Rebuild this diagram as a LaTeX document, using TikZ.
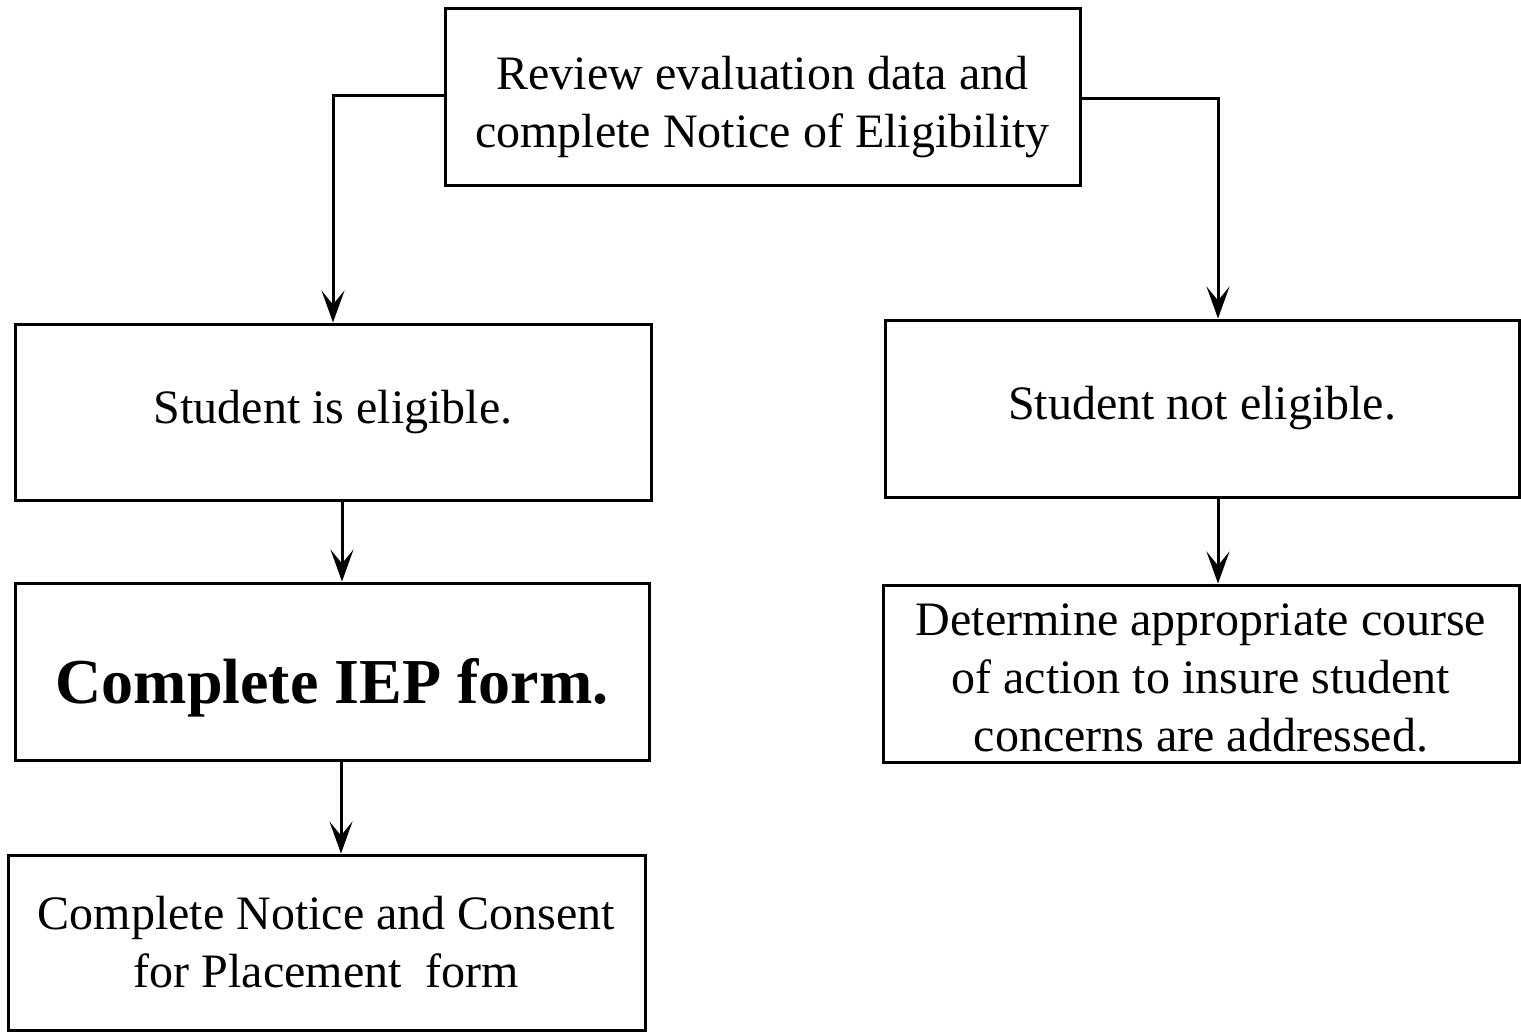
\documentclass[tikz,border=0pt]{standalone}
\usepackage{fontspec}
\setmainfont{Liberation Serif}
\usetikzlibrary{arrows.meta}
% invisible strut that lowers a block of node text
\newcommand{\dropby}[1]{\rule{0pt}{#1}}
\begin{document}
\begin{tikzpicture}[x=1pt,y=-1pt,
  box/.style={draw,line width=3pt,inner sep=0pt,align=center,
    font=\fontsize{48}{58}\selectfont},
  flow/.style={line width=3pt,-{Stealth[length=32pt,width=23pt,inset=14pt]}}]
\useasboundingbox (0,0) rectangle (1521,1031);
\node[box,minimum width=635pt,minimum height=177pt] (top) at (762.5,96.5)
  {\dropby{55pt}Review evaluation data and\\complete Notice of Eligibility};
\node[box,minimum width=636pt,minimum height=176pt] (l1) at (333,412)
  {Student is eligible.};
\node[box,minimum width=634pt,minimum height=177pt] (r1) at (1202,408.5)
  {Student not eligible.};
\node[box,minimum width=634pt,minimum height=177pt,
  font=\fontsize{64}{76}\selectfont\bfseries] (l2) at (332,671.5)
  {\dropby{78pt}Complete IEP form.};
\node[box,minimum width=636pt,minimum height=177pt] (r2) at (1201,673.5)
  {\dropby{41pt}Determine appropriate course\\of action to insure student\\concerns are addressed.};
\node[box,minimum width=637pt,minimum height=175pt] (bot) at (326.5,942.5)
  {Complete Notice and Consent\\for Placement\ \ form};
\draw[flow] ([yshift=1.5pt]top.west) -| (l1.north);
\draw[flow] ([yshift=-1.5pt]top.east) -| ([xshift=16pt]r1.north);
\draw[flow] ([xshift=9pt]l1.south) -- ([xshift=9pt]l1.south |- l2.north);
\draw[flow] ([xshift=9pt]l2.south) -- ([xshift=9pt]l2.south |- bot.north);
\draw[flow] ([xshift=16pt]r1.south) -- ([xshift=16pt]r1.south |- r2.north);
\end{tikzpicture}
\end{document}
